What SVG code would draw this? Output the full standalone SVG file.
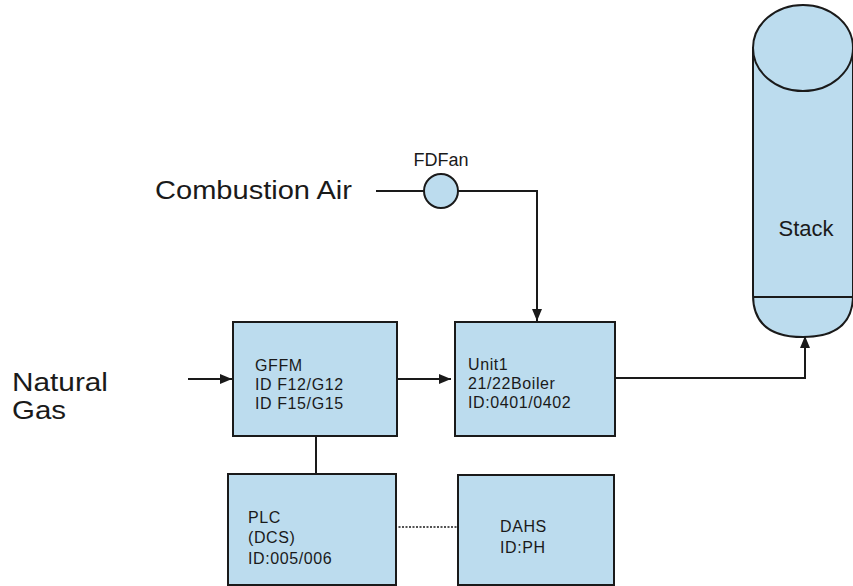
<svg xmlns="http://www.w3.org/2000/svg" width="853" height="586" viewBox="0 0 853 586">
<defs>
<marker id="arr" viewBox="0 0 12 10" refX="12" refY="5" markerWidth="12" markerHeight="10" orient="auto" markerUnits="userSpaceOnUse">
<path d="M0,0 L12,5 L0,10 z" fill="#1a1a1a"/>
</marker>
<style>
.box{fill:#bcdcee;stroke:#1a1a1a;stroke-width:2}
.ln{fill:none;stroke:#1a1a1a;stroke-width:2}
.bt{font-family:"Liberation Sans",Arial,sans-serif;font-size:16px;letter-spacing:0.6px;fill:#1a1a1a}
.lt{font-family:"Liberation Sans",Arial,sans-serif;font-size:26px;fill:#1a1a1a}
</style>
</defs>
<rect width="853" height="586" fill="#ffffff"/>
<g id="connectors">
<path class="ln" d="M376,191 H424"/>
<path class="ln" d="M458,191 H537 V321" marker-end="url(#arr)"/>
<path class="ln" d="M188,379 H232" marker-end="url(#arr)"/>
<path class="ln" d="M393,379 H451" marker-end="url(#arr)"/>
<path class="ln" d="M615,378 H805 V336" marker-end="url(#arr)"/>
<path class="ln" d="M316,436 V474"/>
<path class="ln" d="M395,527 H457" stroke-dasharray="2,1.5" style="stroke-width:1.5"/>
</g>
<g id="combustion-air"><text class="lt" x="155" y="199" textLength="197" lengthAdjust="spacingAndGlyphs">Combustion Air</text></g>
<g id="natural-gas"><text class="lt" x="12" y="391" textLength="96" lengthAdjust="spacingAndGlyphs">Natural</text><text class="lt" x="12" y="419" textLength="54" lengthAdjust="spacingAndGlyphs">Gas</text></g>
<g id="fdfan">
<circle cx="441" cy="191" r="17" class="box"/>
<text class="bt" x="441" y="166" text-anchor="middle" style="font-size:18px;letter-spacing:0">FDFan</text>
</g>
<g id="stack">
<path class="box" d="M753,48 V295 Q753,337 803,337 Q853,337 853,295 V48 Z"/>
<line x1="753" y1="297" x2="853" y2="297" class="ln"/>
<ellipse cx="803" cy="48" rx="50" ry="43" class="box"/>
<text class="lt" x="806" y="236" text-anchor="middle" style="font-size:22px">Stack</text>
</g>
<g id="gffm">
<rect class="box" x="233" y="322" width="164" height="114"/>
<text class="bt" x="255" y="371">GFFM</text>
<text class="bt" x="255" y="390">ID F12/G12</text>
<text class="bt" x="255" y="409">ID F15/G15</text>
</g>
<g id="unit1">
<rect class="box" x="455" y="322" width="160" height="114"/>
<text class="bt" x="468" y="370">Unit1</text>
<text class="bt" x="468" y="389">21/22Boiler</text>
<text class="bt" x="468" y="408">ID:0401/0402</text>
</g>
<g id="plc">
<rect class="box" x="228" y="474" width="168" height="111"/>
<text class="bt" x="248" y="523">PLC</text>
<text class="bt" x="248" y="543">(DCS)</text>
<text class="bt" x="248" y="564">ID:005/006</text>
</g>
<g id="dahs">
<rect class="box" x="458" y="475" width="156" height="110"/>
<text class="bt" x="500" y="532">DAHS</text>
<text class="bt" x="500" y="553">ID:PH</text>
</g>
</svg>
